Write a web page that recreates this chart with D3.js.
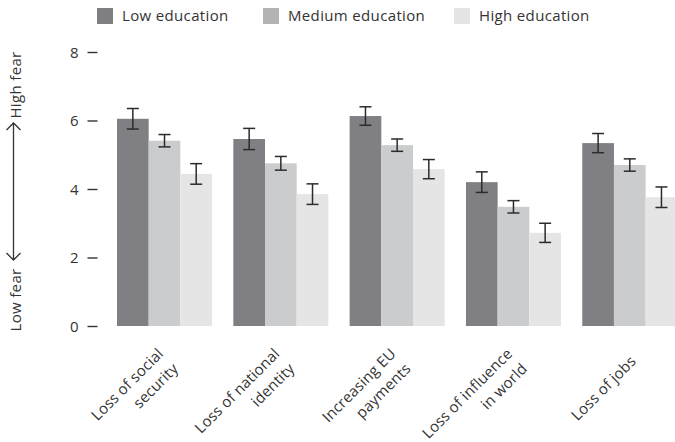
<!DOCTYPE html>
<html>
<head>
<meta charset="utf-8">
<script src="https://cdn.jsdelivr.net/npm/d3@7"></script>
<style>
  html, body { margin: 0; padding: 0; background: #fff; }
  svg { display: block; font-family: "Open Sans", sans-serif; letter-spacing: 0.35px; }
</style>
</head>
<body>
<svg id="chart" width="675" height="442"></svg>
<script>
// ---- data ----
const categories = ["Loss of social security", "Loss of national identity", "Increasing EU payments", "Loss of influence in world", "Loss of jobs"];
const categoryLines = [["Loss of social", "security"], ["Loss of national", "identity"], ["Increasing EU", "payments"], ["Loss of influence", "in world"], ["Loss of jobs"]];
const seriesNames = ["Low education", "Medium education", "High education"];
const lowValues = [6.05, 5.46, 6.13, 4.20, 5.34];
const lowErrors = [0.30, 0.31, 0.27, 0.30, 0.28];
const mediumValues = [5.41, 4.75, 5.28, 3.48, 4.70];
const mediumErrors = [0.18, 0.20, 0.18, 0.18, 0.18];
const highValues = [4.44, 3.85, 4.58, 2.72, 3.76];
const highErrors = [0.30, 0.30, 0.28, 0.28, 0.30];
const yTicks = [0, 2, 4, 6, 8];
const axisLabelHigh = "High fear";
const axisLabelLow = "Low fear";

// ---- styling ----
const barColors = ["#808084", "#cbccce", "#e5e5e5"];
const legendColors = ["#7f7f83", "#b3b3b3", "#e5e5e5"];
const textColor = "#333333";

const svg = d3.select("#chart");

const values = [lowValues, mediumValues, highValues];
const errors = [lowErrors, mediumErrors, highErrors];
const table = categories.map((c, i) => ({
  category: c,
  lines: categoryLines[i],
  bars: seriesNames.map((s, j) => ({ series: s, value: values[j][i], err: errors[j][i], idx: j }))
}));

const y = d3.scaleLinear().domain([0, 8]).range([326, 52]);
const x = d3.scaleBand().domain(categories).range([117, 677.3]).paddingInner(0.183).paddingOuter(0);
const xs = d3.scaleBand().domain(seriesNames).range([0, x.bandwidth()]).padding(0);

// y axis: tick dashes + labels, no domain line
const yAxis = d3.axisLeft(y).tickValues(yTicks).tickSize(0).tickPadding(0).tickFormat(d3.format("d"));
const yg = svg.append("g").attr("transform", "translate(79,0)").call(yAxis);
yg.select(".domain").remove();
yg.selectAll(".tick text")
  .attr("x", 0).attr("dy", "0.36em")
  .style("font-family", "'Open Sans', sans-serif")
  .style("font-size", "15px").attr("fill", textColor);
yg.selectAll(".tick").append("line")
  .attr("x1", 8.5).attr("x2", 18.5).attr("y1", 0).attr("y2", 0)
  .attr("stroke", textColor).attr("stroke-width", 1.4);

// bars
const groups = svg.append("g").selectAll("g.grp").data(table).join("g")
  .attr("class", "grp")
  .attr("transform", d => `translate(${x(d.category)},0)`);

groups.selectAll("rect").data(d => d.bars).join("rect")
  .attr("x", d => xs(d.series))
  .attr("width", xs.bandwidth())
  .attr("y", d => y(d.value))
  .attr("height", d => y(0) - y(d.value))
  .attr("fill", d => barColors[d.idx]);

// error bars
const eb = groups.selectAll("g.err").data(d => d.bars).join("g").attr("class", "err")
  .attr("transform", d => `translate(${xs(d.series) + xs.bandwidth() / 2},0)`)
  .attr("stroke", "#2b2b2b").attr("stroke-width", 1.5);
eb.append("line").attr("x1", 0).attr("x2", 0)
  .attr("y1", d => y(d.value + d.err)).attr("y2", d => y(d.value - d.err));
eb.append("line").attr("x1", -6).attr("x2", 6)
  .attr("y1", d => y(d.value + d.err)).attr("y2", d => y(d.value + d.err));
eb.append("line").attr("x1", -6).attr("x2", 6)
  .attr("y1", d => y(d.value - d.err)).attr("y2", d => y(d.value - d.err));

// x labels, rotated
const lineH = 21;
const xl = svg.append("g").selectAll("text").data(table).join("text")
  .attr("transform", d => `translate(${x(d.category) + x.bandwidth() / 2 + 4},359) rotate(-45)`)
  .attr("text-anchor", "end")
  .style("font-size", "15px")
  .style("letter-spacing", "0.15px")
  .attr("fill", textColor);
xl.selectAll("tspan").data(d => d.lines.map((l, i) => ({ l, i, n: d.lines.length }))).join("tspan")
  .attr("x", 0)
  .attr("y", d => (d.i - (d.n - 1) / 2) * lineH + 4.5)
  .text(d => d.l);

// legend
const legendX = [97, 263, 454];
const lg = svg.append("g").selectAll("g").data(seriesNames).join("g")
  .attr("transform", (d, i) => `translate(${legendX[i]},8)`);
lg.append("rect").attr("width", 16).attr("height", 16).attr("fill", (d, i) => legendColors[i]);
lg.append("text").attr("x", 25).attr("y", 13).text(d => d)
  .style("font-size", "15px").attr("fill", textColor);

// y-axis annotation: High fear / double arrow / Low fear
const ax = svg.append("g");
ax.append("text").attr("transform", "translate(21,85) rotate(-90)")
  .attr("text-anchor", "middle").style("font-size", "15px").attr("fill", textColor).text(axisLabelHigh);
ax.append("text").attr("transform", "translate(21,300) rotate(-90)")
  .attr("text-anchor", "middle").style("font-size", "15px").attr("fill", textColor).text(axisLabelLow);
const arrowTop = 123, arrowBot = 260, arrowX = 13.5;
ax.append("path")
  .attr("d", `M${arrowX},${arrowTop}V${arrowBot}M${arrowX - 7},${arrowTop + 7}L${arrowX},${arrowTop}L${arrowX + 7},${arrowTop + 7}M${arrowX - 7},${arrowBot - 7}L${arrowX},${arrowBot}L${arrowX + 7},${arrowBot - 7}`)
  .attr("fill", "none").attr("stroke", textColor).attr("stroke-width", 1.3);
</script>
</body>
</html>
